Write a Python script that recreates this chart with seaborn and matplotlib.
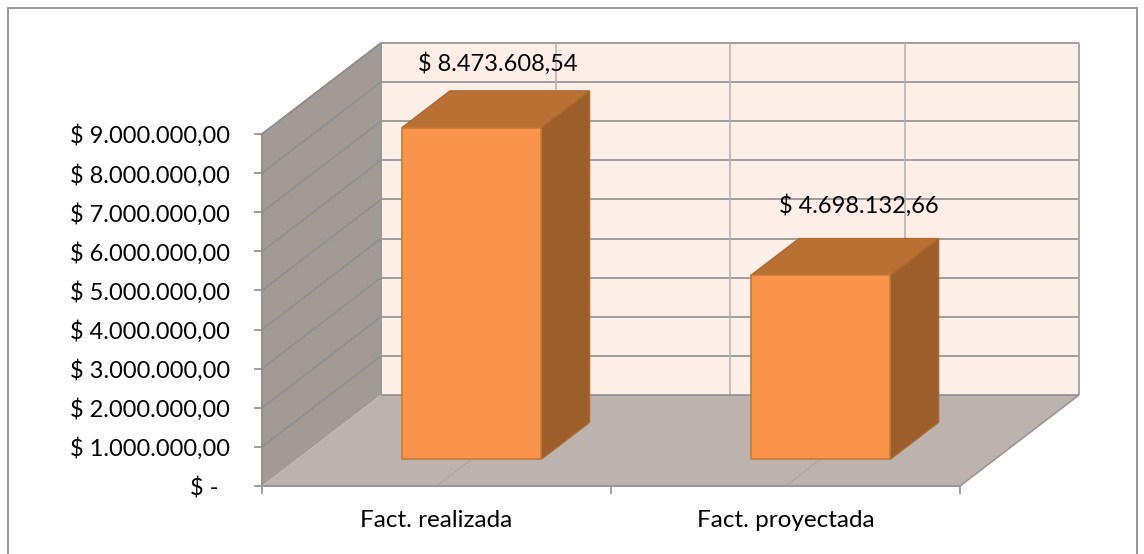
import matplotlib
matplotlib.use('Agg')
import matplotlib.pyplot as plt
import pandas as pd
import seaborn as sns
from matplotlib.patches import Polygon, Rectangle
from matplotlib.transforms import Affine2D, IdentityTransform

categorias = ['Fact. realizada', 'Fact. proyectada']
valores = [8473608.54, 4698132.66]
etiquetas = ['$ 8.473.608,54', '$ 4.698.132,66']
ticks_y = [0, 1000000, 2000000, 3000000, 4000000, 5000000, 6000000, 7000000, 8000000, 9000000]
ticks_y_txt = ['$ -  ', '$ 1.000.000,00', '$ 2.000.000,00', '$ 3.000.000,00', '$ 4.000.000,00',
               '$ 5.000.000,00', '$ 6.000.000,00', '$ 7.000.000,00', '$ 8.000.000,00', '$ 9.000.000,00']

# profundidad del falso 3D, en pixeles
DX, DY = 119, 91
BAR_D0, BAR_D1 = 0.295, 0.70

sns.set_theme(style='white')
plt.rcParams['font.family'] = ['Lato', 'DejaVu Sans']

fig = plt.figure(figsize=(11.44, 5.54), dpi=100)
ax = fig.add_axes([262 / 1144, (554 - 486) / 554, 698 / 1144, 352 / 554])

df = pd.DataFrame({'cat': categorias, 'valor': valores})
sns.barplot(data=df, x='cat', y='valor', width=0.4, color='#F9944A', saturation=1, ax=ax, zorder=5,
            edgecolor='#C47A3A', linewidth=1.2)
ax.set_xlim(-0.5, 1.5)
ax.set_ylim(0, 9000000)
ax.patch.set_visible(False)
sns.despine(ax=ax, top=True, right=True, left=True, bottom=True)
ax.set_xlabel('')
ax.set_ylabel('')


def pt(x, y, d=0):
    px, py = ax.transData.transform((x, y))
    return (px + DX * d, py + DY * d)


def cara(puntos, color, z, edge='none', lw=0):
    ax.add_patch(Polygon(puntos, closed=True, facecolor=color, edgecolor=edge, linewidth=lw,
                         transform=IdentityTransform(), clip_on=False, zorder=z))


def linea(a, b, color='#8F8F8F', lw=1.2, z=2):
    ax.plot([a[0], b[0]], [a[1], b[1]], color=color, lw=lw, transform=IdentityTransform(),
            clip_on=False, zorder=z, solid_capstyle='butt')


x0, x1 = ax.get_xlim()
ymax = ticks_y[-1]
barras = list(ax.patches)

# paredes y piso
cara([pt(x0, 0, 1), pt(x1, 0, 1), pt(x1, ymax, 1), pt(x0, ymax, 1)], '#FDEFE8', 1)
cara([pt(x0, 0, 0), pt(x0, 0, 1), pt(x0, ymax, 1), pt(x0, ymax, 0)], '#A19A95', 1)
cara([pt(x0, 0, 0), pt(x1, 0, 0), pt(x1, 0, 1), pt(x0, 0, 1)], '#BDB3AE', 1.5)

for v in ticks_y[1:]:
    linea(pt(x0, v, 1), pt(x1, v, 1))
    linea(pt(x0, v, 0), pt(x0, v, 1))
for xv in [0, 0.5, 1]:
    linea(pt(xv, 0, 1), pt(xv, ymax, 1), color='#B8B4B2')
for xv in [0, 1]:
    linea(pt(xv, 0, 0), pt(xv, 0, 1), color='#ACA6A2', lw=0.8)

linea(pt(x1, 0, 1), pt(x1, ymax, 1), color='#ABA6A4', lw=1.4)
linea(pt(x0, 0, 1), pt(x0, ymax, 1), color='#9A9693', lw=1.4)
linea(pt(x0, 0, 1), pt(x1, 0, 1), z=2)
linea(pt(x1, 0, 0), pt(x1, 0, 1), color='#9A9693', z=2)
linea(pt(x0, ymax, 0), pt(x0, ymax, 1), z=2)
linea(pt(x0, 0, 0), pt(x0, ymax, 0), color='#8F8F8F', lw=1.4, z=3)
linea(pt(x0, 0, 0), pt(x1, 0, 0), color='#9A9693', lw=1.4, z=3)

# barras: se mueven al fondo y se les agregan las caras
mover = Affine2D().translate(DX * BAR_D0, DY * BAR_D0)
for bar in barras:
    a, b = bar.get_x(), bar.get_x() + bar.get_width()
    h = bar.get_height()
    bar.set_transform(ax.transData + mover)
    bar.set_clip_on(False)
    cara([pt(a, h, BAR_D0), pt(b, h, BAR_D0), pt(b, h, BAR_D1), pt(a, h, BAR_D1)], '#B97033', 4,
         edge='#B0682F', lw=1)
    cara([pt(b, 0, BAR_D0), pt(b, h, BAR_D0), pt(b, h, BAR_D1), pt(b, 0, BAR_D1)], '#9C5F2B', 4,
         edge='#B0682F', lw=1)

# etiquetas de valor
desplaz = [(26, 64), (38, 70)]
for i, txt in enumerate(etiquetas):
    ax.annotate(txt, xy=pt(i, valores[i], BAR_D0), xycoords='figure pixels', xytext=desplaz[i],
                textcoords='offset pixels', ha='center', va='center', fontsize=17, color='black',
                zorder=8, annotation_clip=False)

# ejes
ax.set_yticks(ticks_y)
ax.set_yticklabels(ticks_y_txt)
ax.set_xticks([-0.5, 0.5, 1.5])
ax.set_xticklabels(['', '', ''])
ax.set_xticks([0, 1], minor=True)
ax.set_xticklabels(categorias, minor=True)
ax.tick_params(axis='y', left=True, length=6, width=1.2, color='#8F8F8F', labelsize=17, pad=17,
               labelcolor='black')
ax.tick_params(axis='x', which='major', bottom=True, length=6, width=1.2, color='#8F8F8F')
ax.tick_params(axis='x', which='minor', bottom=False, length=0, labelsize=17.5, pad=17, labelcolor='black')

# marco del grafico (sigue por debajo del borde de la imagen)
fig.add_artist(Rectangle((7.5, -10), 1129, 556, transform=IdentityTransform(), fill=False,
                         edgecolor='#969696', linewidth=1.4))

fig.savefig('out.png', dpi=100, facecolor='white')
